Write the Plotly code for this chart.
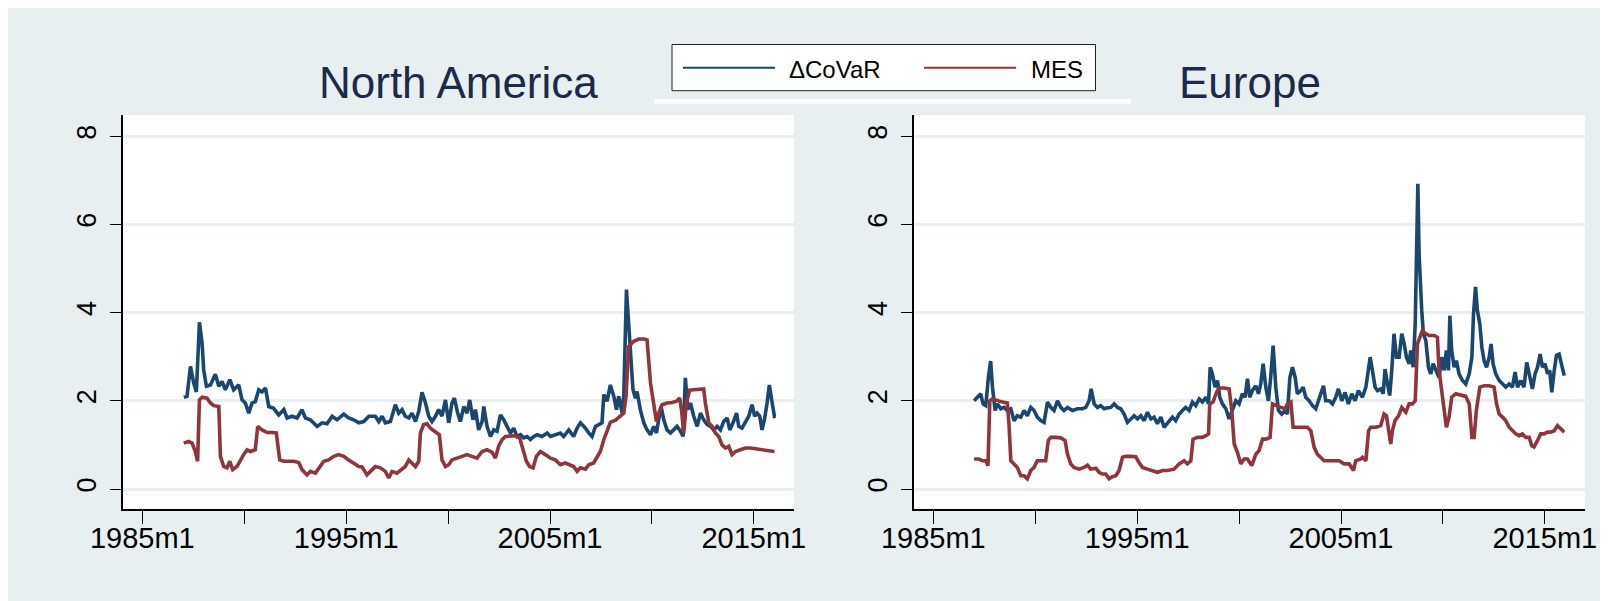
import plotly.graph_objects as go

# ---------------- data (decimal years, values) ----------------
na_covar_t = [1987.03, 1987.19, 1987.36, 1987.52, 1987.65, 1987.80, 1987.93, 1988.01, 1988.14, 1988.34, 1988.58, 1988.75, 1988.91, 1989.07, 1989.29, 1989.48, 1989.73, 1989.89, 1990.05, 1990.22, 1990.38, 1990.54, 1990.71, 1990.87, 1991.04, 1991.20, 1991.44, 1991.69, 1991.94, 1992.10, 1992.34, 1992.59, 1992.83, 1993.00, 1993.24, 1993.57, 1993.82, 1994.06, 1994.31, 1994.55, 1994.88, 1995.12, 1995.37, 1995.62, 1995.86, 1996.11,
              1996.43, 1996.60, 1996.76, 1996.92, 1997.17, 1997.41, 1997.58, 1997.74, 1997.90, 1998.07, 1998.23, 1998.40, 1998.56, 1998.72, 1998.89, 1999.05, 1999.21, 1999.38, 1999.54, 1999.70, 1999.87, 2000.03, 2000.19, 2000.31, 2000.47, 2000.60, 2000.77, 2000.93, 2001.06, 2001.22, 2001.34, 2001.50, 2001.67, 2001.75, 2001.91, 2002.08, 2002.24, 2002.40, 2002.57, 2002.73, 2002.89, 2003.06, 2003.22, 2003.38, 2003.55, 2003.71, 2003.87, 2004.04, 2004.20, 2004.37, 2004.61, 2004.86, 2005.02, 2005.26, 2005.51, 2005.67, 2005.92,
              2006.16, 2006.33, 2006.49, 2006.74, 2006.90, 2007.06, 2007.23, 2007.39, 2007.55, 2007.64, 2007.80, 2007.96, 2008.13, 2008.26, 2008.37, 2008.54, 2008.62, 2008.75, 2008.86, 2008.94, 2009.07, 2009.19, 2009.27, 2009.43, 2009.60, 2009.76, 2009.93, 2010.09, 2010.22, 2010.33, 2010.45, 2010.58, 2010.74, 2010.91, 2011.07, 2011.23, 2011.40, 2011.53, 2011.64, 2011.76, 2011.89, 2012.05, 2012.22, 2012.38, 2012.54, 2012.71, 2012.87, 2013.03, 2013.20, 2013.36, 2013.52, 2013.69, 2013.82, 2013.98, 2014.15, 2014.26, 2014.42, 2014.59, 2014.75, 2014.91, 2015.04, 2015.16, 2015.29, 2015.40, 2015.52, 2015.65, 2015.76, 2015.90, 2016.01, 2016.07]
na_covar_v = [2.08, 2.10, 2.78, 2.40, 2.20, 3.78, 3.30, 2.70, 2.33, 2.36, 2.60, 2.33, 2.44, 2.25, 2.48, 2.25, 2.36, 2.02, 1.95, 1.72, 1.95, 1.98, 2.25, 2.20, 2.29, 1.87, 1.83, 1.68, 1.80, 1.61, 1.65, 1.61, 1.80, 1.61, 1.57, 1.42, 1.50, 1.48, 1.65, 1.57, 1.70, 1.61, 1.57, 1.50, 1.53, 1.65,
              1.65, 1.53, 1.65, 1.50, 1.53, 1.91, 1.72, 1.80, 1.65, 1.61, 1.72, 1.53, 1.76, 2.19, 1.95, 1.65, 1.53, 1.65, 1.80, 1.65, 2.02, 1.50, 1.95, 2.06, 1.72, 1.53, 1.87, 1.72, 2.02, 1.57, 1.80, 1.34, 1.53, 1.87, 1.42, 1.19, 1.34, 1.31, 1.68, 1.57, 1.42, 1.27, 1.38, 1.19, 1.23, 1.16, 1.19, 1.12, 1.19, 1.23, 1.19, 1.27, 1.19, 1.23, 1.27, 1.19, 1.34,
              1.19, 1.38, 1.50, 1.38, 1.27, 1.19, 1.42, 1.46, 1.50, 2.14, 1.99, 2.36, 2.10, 1.80, 2.10, 1.72, 2.14, 4.52, 3.76, 3.08, 2.25, 2.06, 2.21, 1.80, 1.50, 1.34, 1.23, 1.42, 1.27, 1.57, 1.87, 1.57, 1.34, 1.27, 1.34, 1.42, 1.31, 1.19, 2.52, 1.80, 1.95, 1.65, 1.42, 1.72, 1.57, 1.46, 1.42, 1.34, 1.42, 1.34, 1.53, 1.61, 1.34, 1.50, 1.72, 1.42, 1.38, 1.53, 1.65, 1.91, 1.65, 1.72, 1.65, 1.34, 1.57, 1.95, 2.36, 1.95, 1.65, 1.66]

na_mes_t = [1987.03, 1987.27, 1987.44, 1987.60, 1987.71, 1987.80, 1987.93, 1988.17, 1988.34, 1988.50, 1988.75, 1988.83, 1988.99, 1989.15, 1989.29, 1989.43, 1989.64, 1989.81, 1989.97, 1990.14, 1990.30, 1990.54, 1990.66, 1990.87, 1991.12, 1991.36, 1991.57, 1991.74, 1991.94, 1992.18, 1992.43, 1992.67, 1992.83, 1993.08, 1993.24, 1993.49, 1993.73, 1993.90, 1994.14, 1994.39, 1994.63, 1994.88, 1995.12, 1995.37, 1995.62, 1995.78, 1996.02, 1996.19, 1996.43,
            1996.68, 1996.92, 1997.09, 1997.25, 1997.49, 1997.74, 1997.90, 1998.07, 1998.23, 1998.40, 1998.56, 1998.64, 1998.80, 1998.97, 1999.13, 1999.38, 1999.57, 1999.70, 1999.87, 2000.03, 2000.19, 2000.44, 2000.68, 2000.93, 2001.17, 2001.42, 2001.67, 2001.91, 2002.16, 2002.32, 2002.48, 2002.65, 2002.81, 2003.06, 2003.30, 2003.51, 2003.68, 2003.84, 2004.00, 2004.17, 2004.33, 2004.53, 2004.77, 2005.02, 2005.26, 2005.51, 2005.75, 2006.00,
            2006.16, 2006.33, 2006.49, 2006.74, 2006.90, 2007.14, 2007.31, 2007.47, 2007.64, 2007.80, 2007.96, 2008.21, 2008.45, 2008.62, 2008.73, 2008.86, 2009.11, 2009.35, 2009.60, 2009.76, 2009.93, 2010.09, 2010.22, 2010.33, 2010.50, 2010.74, 2010.99, 2011.20, 2011.36, 2011.45, 2011.56, 2011.69, 2011.85, 2012.05, 2012.30, 2012.54, 2012.62, 2012.79, 2012.95, 2013.11, 2013.28, 2013.44, 2013.61, 2013.77, 2013.93, 2014.10, 2014.34, 2014.59, 2014.83, 2015.08, 2015.32, 2015.57, 2015.81, 2016.01]
na_mes_v = [1.04, 1.08, 1.04, 0.85, 0.63, 2.02, 2.08, 2.06, 1.95, 1.89, 1.87, 0.74, 0.51, 0.48, 0.63, 0.44, 0.51, 0.66, 0.78, 0.89, 0.85, 0.89, 1.42, 1.34, 1.28, 1.28, 1.27, 0.66, 0.63, 0.63, 0.63, 0.60, 0.44, 0.32, 0.40, 0.36, 0.51, 0.63, 0.66, 0.74, 0.78, 0.74, 0.66, 0.59, 0.51, 0.50, 0.32, 0.40, 0.51,
            0.48, 0.40, 0.25, 0.40, 0.36, 0.44, 0.51, 0.66, 0.59, 0.51, 0.63, 1.27, 1.46, 1.48, 1.38, 1.28, 1.23, 0.66, 0.51, 0.55, 0.66, 0.70, 0.74, 0.78, 0.74, 0.70, 0.85, 0.89, 0.83, 0.70, 0.97, 1.12, 1.19, 1.21, 1.21, 1.16, 0.89, 0.63, 0.51, 0.48, 0.74, 0.85, 0.78, 0.70, 0.66, 0.55, 0.59, 0.53,
            0.51, 0.40, 0.48, 0.45, 0.55, 0.59, 0.74, 0.85, 1.12, 1.34, 1.51, 1.56, 1.65, 1.72, 2.10, 3.23, 3.35, 3.40, 3.40, 3.38, 2.40, 1.95, 1.53, 1.72, 1.91, 1.95, 1.96, 1.99, 2.06, 1.80, 1.27, 1.95, 2.24, 2.25, 2.27, 2.27, 1.95, 1.50, 1.42, 1.27, 1.19, 1.00, 0.93, 0.97, 0.78, 0.85, 0.89, 0.93, 0.93, 0.91, 0.89, 0.88, 0.85, 0.85]

eu_covar_t = [1987.00, 1987.16, 1987.32, 1987.44, 1987.57, 1987.70, 1987.81, 1987.90, 1988.03, 1988.14, 1988.31, 1988.47, 1988.63, 1988.80, 1988.96, 1989.12, 1989.29, 1989.45, 1989.61, 1989.78, 1989.94, 1990.10, 1990.27, 1990.43, 1990.60, 1990.76, 1990.92, 1991.09, 1991.25, 1991.41, 1991.58, 1991.82, 1992.07, 1992.31, 1992.48, 1992.64, 1992.74, 1992.89, 1993.05, 1993.21, 1993.38, 1993.54, 1993.70, 1993.87, 1994.03, 1994.19, 1994.36, 1994.52, 1994.68, 1994.85, 1995.01, 1995.18, 1995.34, 1995.50, 1995.67, 1995.83, 1995.99, 1996.16, 1996.32,
              1996.57, 1996.73, 1996.89, 1997.06, 1997.22, 1997.38, 1997.55, 1997.71, 1997.87, 1998.04, 1998.20, 1998.37, 1998.50, 1998.58, 1998.69, 1998.82, 1998.94, 1999.05, 1999.18, 1999.35, 1999.51, 1999.67, 1999.84, 2000.00, 2000.16, 2000.29, 2000.41, 2000.52, 2000.65, 2000.82, 2000.95, 2001.06, 2001.18, 2001.31, 2001.44, 2001.55, 2001.67, 2001.80, 2001.93, 2002.09, 2002.26, 2002.37, 2002.49, 2002.62, 2002.75, 2002.86, 2003.03, 2003.14, 2003.27, 2003.44, 2003.60, 2003.76, 2003.89, 2004.01, 2004.14, 2004.25, 2004.42, 2004.58, 2004.74, 2004.87, 2005.04, 2005.20, 2005.36, 2005.53, 2005.69, 2005.85,
              2006.05, 2006.22, 2006.35, 2006.43, 2006.54, 2006.67, 2006.79, 2006.95, 2007.07, 2007.16, 2007.28, 2007.39, 2007.49, 2007.60, 2007.72, 2007.85, 2007.98, 2008.10, 2008.21, 2008.34, 2008.42, 2008.54, 2008.64, 2008.70, 2008.77, 2008.83, 2008.90, 2008.96, 2009.04, 2009.16, 2009.29, 2009.40, 2009.52, 2009.65, 2009.81, 2009.94, 2010.06, 2010.17, 2010.27, 2010.34, 2010.43, 2010.55, 2010.66, 2010.79, 2010.96, 2011.12, 2011.29, 2011.42, 2011.50, 2011.60, 2011.69, 2011.81, 2011.91, 2012.02, 2012.14, 2012.27, 2012.36, 2012.46, 2012.59, 2012.76, 2012.92, 2013.08, 2013.25, 2013.41, 2013.54, 2013.66, 2013.82, 2013.98, 2014.11, 2014.26, 2014.39, 2014.52, 2014.64, 2014.77, 2014.88, 2015.01, 2015.13, 2015.24, 2015.34, 2015.46, 2015.57, 2015.70, 2015.83, 2015.95]
eu_covar_v = [2.00, 2.08, 2.16, 1.93, 1.89, 2.53, 2.90, 2.31, 1.78, 1.93, 1.82, 1.85, 1.78, 1.82, 1.55, 1.66, 1.63, 1.78, 1.66, 1.85, 1.78, 1.63, 1.55, 1.51, 1.97, 1.85, 1.78, 2.00, 1.85, 1.78, 1.85, 1.78, 1.82, 1.82, 1.85, 2.00, 2.27, 1.93, 1.85, 1.89, 1.82, 1.84, 1.85, 1.93, 1.85, 1.82, 1.70, 1.51, 1.59, 1.66, 1.59, 1.66, 1.55, 1.74, 1.59, 1.63, 1.48, 1.63, 1.40,
              1.55, 1.63, 1.55, 1.70, 1.78, 1.85, 1.78, 1.97, 1.89, 2.04, 1.97, 2.08, 1.93, 2.76, 2.61, 2.31, 2.46, 2.08, 1.93, 1.82, 1.59, 1.78, 2.00, 1.93, 2.16, 2.08, 2.50, 2.08, 2.23, 2.34, 2.16, 2.38, 2.84, 2.31, 2.00, 2.53, 3.25, 2.31, 1.78, 1.70, 1.78, 1.70, 2.53, 2.76, 2.53, 2.16, 2.23, 2.31, 2.08, 2.00, 1.89, 1.82, 2.00, 2.12, 2.34, 2.00, 2.00, 1.93, 2.08, 2.27, 2.00, 2.19, 1.93, 2.16, 2.00, 2.23,
              2.08, 2.31, 2.69, 2.99, 2.69, 2.31, 2.23, 2.27, 2.16, 2.72, 2.38, 2.12, 2.69, 3.52, 2.99, 2.99, 3.52, 3.29, 2.99, 2.84, 3.14, 2.76, 3.74, 4.95, 6.92, 5.33, 4.50, 4.05, 3.52, 3.37, 2.76, 2.61, 2.84, 2.69, 2.53, 2.99, 2.69, 3.14, 2.69, 3.93, 3.14, 2.76, 2.91, 2.61, 2.46, 2.38, 2.61, 2.99, 3.97, 4.58, 4.05, 3.74, 3.21, 2.91, 2.76, 2.99, 3.29, 2.84, 2.61, 2.46, 2.38, 2.31, 2.38, 2.31, 2.65, 2.31, 2.46, 2.31, 2.87, 2.53, 2.27, 2.61, 2.76, 3.06, 2.76, 2.84, 2.61, 2.69, 2.19, 2.69, 3.03, 3.06, 2.76, 2.57]

eu_mes_t = [1987.00, 1987.24, 1987.41, 1987.57, 1987.68, 1987.77, 1987.90, 1988.14, 1988.39, 1988.63, 1988.71, 1988.80, 1988.96, 1989.12, 1989.29, 1989.45, 1989.61, 1989.78, 1989.94, 1990.10, 1990.27, 1990.51, 1990.64, 1990.76, 1991.00, 1991.25, 1991.46, 1991.58, 1991.74, 1991.90, 1992.15, 1992.39, 1992.56, 1992.72, 1992.97, 1993.13, 1993.29, 1993.46, 1993.62, 1993.78, 1993.95, 1994.11, 1994.28, 1994.44, 1994.68, 1994.93, 1995.09, 1995.26, 1995.50, 1995.75, 1995.99, 1996.24, 1996.48,
            1996.81, 1997.06, 1997.30, 1997.46, 1997.63, 1997.74, 1997.96, 1998.20, 1998.37, 1998.50, 1998.56, 1998.72, 1998.89, 1999.02, 1999.26, 1999.51, 1999.64, 1999.76, 1999.92, 2000.08, 2000.25, 2000.41, 2000.62, 2000.82, 2000.98, 2001.15, 2001.31, 2001.52, 2001.64, 2001.80, 2002.04, 2002.26, 2002.37, 2002.54, 2002.65, 2002.86, 2003.11, 2003.35, 2003.52, 2003.68, 2003.84, 2004.01, 2004.17, 2004.42, 2004.66, 2004.91, 2005.15, 2005.40, 2005.61, 2005.72, 2005.97,
            2006.05, 2006.22, 2006.35, 2006.46, 2006.71, 2006.95, 2007.11, 2007.23, 2007.36, 2007.44, 2007.52, 2007.65, 2007.82, 2007.98, 2008.18, 2008.34, 2008.50, 2008.64, 2008.75, 2008.86, 2008.99, 2009.13, 2009.32, 2009.57, 2009.73, 2009.81, 2009.94, 2010.06, 2010.17, 2010.30, 2010.43, 2010.63, 2010.88, 2011.12, 2011.29, 2011.42, 2011.53, 2011.64, 2011.81, 2012.02, 2012.27, 2012.51, 2012.63, 2012.76, 2012.92, 2013.08, 2013.25, 2013.41, 2013.57, 2013.74, 2013.90, 2014.07, 2014.23, 2014.36, 2014.47, 2014.64, 2014.80, 2014.96, 2015.13, 2015.29, 2015.46, 2015.62, 2015.78, 2015.95]
eu_mes_v = [0.68, 0.68, 0.64, 0.64, 0.53, 2.00, 2.04, 2.00, 1.97, 1.95, 1.47, 0.64, 0.57, 0.49, 0.30, 0.30, 0.23, 0.42, 0.49, 0.64, 0.64, 0.64, 1.10, 1.17, 1.17, 1.16, 1.10, 0.79, 0.57, 0.49, 0.45, 0.49, 0.54, 0.45, 0.47, 0.38, 0.34, 0.34, 0.23, 0.28, 0.30, 0.42, 0.72, 0.74, 0.74, 0.73, 0.60, 0.49, 0.45, 0.42, 0.38, 0.42, 0.42,
            0.45, 0.57, 0.64, 0.57, 0.64, 1.13, 1.17, 1.17, 1.21, 1.25, 1.93, 1.97, 2.19, 2.29, 2.29, 2.27, 1.78, 1.02, 0.83, 0.57, 0.68, 0.68, 0.53, 0.79, 0.87, 1.13, 1.13, 1.17, 1.93, 1.89, 1.85, 1.82, 1.93, 1.97, 1.40, 1.40, 1.40, 1.40, 1.32, 0.95, 0.79, 0.72, 0.64, 0.64, 0.64, 0.64, 0.57, 0.57, 0.42, 0.64, 0.68,
            0.72, 0.64, 1.32, 1.40, 1.40, 1.44, 1.70, 1.66, 1.32, 1.02, 1.32, 1.55, 1.66, 1.85, 1.74, 1.93, 1.93, 2.00, 3.29, 3.44, 3.59, 3.53, 3.48, 3.48, 3.44, 2.69, 2.23, 1.93, 1.40, 1.63, 2.08, 2.16, 2.12, 2.10, 1.93, 1.17, 1.17, 1.78, 2.31, 2.34, 2.34, 2.31, 1.93, 1.70, 1.63, 1.55, 1.40, 1.32, 1.25, 1.21, 1.25, 1.17, 1.17, 0.98, 0.95, 1.10, 1.25, 1.25, 1.29, 1.29, 1.32, 1.44, 1.36, 1.29]

panel_titles = ["North America", "Europe"]
series_names = ["\u0394CoVaR", "MES"]
x_tick_vals = [1985, 1990, 1995, 2000, 2005, 2010, 2015]
x_tick_text = ["1985m1", "", "1995m1", "", "2005m1", "", "2015m1"]
y_tick_vals = [0, 2, 4, 6, 8]

# ---------------- styling ----------------
# The page body adds an 8 px offset; positions below are measured on the final picture.
OFF = 8
W, H = 1592, 593
BG = "#e8eff1"
NAVY = "#1a476f"
MAROON = "#90353b"
FONT = "Liberation Sans, Arial, sans-serif"

def px_x(p):
    return (p - OFF) / W

def px_y(p):
    return 1 - (p - OFF) / H

fig = go.Figure()
fig.add_trace(go.Scatter(x=na_covar_t, y=na_covar_v, mode="lines", name=series_names[0],
                         line=dict(color=NAVY, width=3.6), xaxis="x", yaxis="y"))
fig.add_trace(go.Scatter(x=na_mes_t, y=na_mes_v, mode="lines", name=series_names[1],
                         line=dict(color=MAROON, width=3.6), xaxis="x", yaxis="y"))
fig.add_trace(go.Scatter(x=eu_covar_t, y=eu_covar_v, mode="lines", name=series_names[0],
                         line=dict(color=NAVY, width=3.6), xaxis="x2", yaxis="y2"))
fig.add_trace(go.Scatter(x=eu_mes_t, y=eu_mes_v, mode="lines", name=series_names[1],
                         line=dict(color=MAROON, width=3.6), xaxis="x2", yaxis="y2"))

ydom = [px_y(509.3), px_y(115)]
xdom1 = [px_x(123), px_x(794)]
xdom2 = [px_x(914), px_x(1585)]

xax = dict(range=[1984.05, 2016.97], tickmode="array", tickvals=x_tick_vals, ticktext=x_tick_text,
           ticks="outside", ticklen=13, tickwidth=1, tickcolor="black", automargin=False,
           ticklabelstandoff=-11, ticklabeloverflow="allow",
           showline=True, linecolor="black", linewidth=1.5, showgrid=False, zeroline=False,
           tickfont=dict(size=29, color="black", family=FONT), fixedrange=True)
yax = dict(range=[-0.46, 8.48], tickmode="array", tickvals=y_tick_vals, tickangle=-90,
           ticks="outside", ticklen=11, tickwidth=1, tickcolor="black", automargin=False,
           ticklabelstandoff=3, ticklabeloverflow="allow",
           showline=True, linecolor="black", linewidth=1.5,
           showgrid=True, gridcolor=BG, gridwidth=3, zeroline=False,
           tickfont=dict(size=27, color="black", family=FONT), fixedrange=True)

fig.update_layout(
    template="none",
    width=W, height=H, margin=dict(l=0, r=0, t=0, b=0, pad=0, autoexpand=False),
    paper_bgcolor=BG, plot_bgcolor="white", showlegend=False,
    font=dict(family=FONT),
    xaxis=dict(domain=xdom1, anchor="y", **xax),
    yaxis=dict(domain=ydom, anchor="x", **yax),
    xaxis2=dict(domain=xdom2, anchor="y2", **xax),
    yaxis2=dict(domain=ydom, anchor="x2", **yax),
)

shapes = [
    # white strip below legend
    dict(type="rect", xref="paper", yref="paper", x0=px_x(654), x1=px_x(1131), y0=px_y(103.7), y1=px_y(99),
         fillcolor="white", line=dict(width=0)),
    # legend box
    dict(type="rect", xref="paper", yref="paper", x0=px_x(672), x1=px_x(1095.5), y0=px_y(90.7), y1=px_y(44.5),
         fillcolor="white", line=dict(color="#222222", width=1)),
    dict(type="line", xref="paper", yref="paper", x0=px_x(683), x1=px_x(775), y0=px_y(67.7), y1=px_y(67.7),
         line=dict(color=NAVY, width=2)),
    dict(type="line", xref="paper", yref="paper", x0=px_x(924), x1=px_x(1016), y0=px_y(67.7), y1=px_y(67.7),
         line=dict(color=MAROON, width=2)),
]

annotations = [
    dict(text=panel_titles[0], xref="paper", yref="paper", x=px_x(458.5), y=px_y(82), xanchor="center",
         yanchor="middle", showarrow=False, font=dict(size=44, color="#1b2a4a", family=FONT)),
    dict(text=panel_titles[1], xref="paper", yref="paper", x=px_x(1249.5), y=px_y(82), xanchor="center",
         yanchor="middle", showarrow=False, font=dict(size=44, color="#1b2a4a", family=FONT)),
    dict(text=series_names[0], xref="paper", yref="paper", x=px_x(787), y=px_y(69.5), xanchor="left",
         yanchor="middle", showarrow=False, font=dict(size=24, color="black", family=FONT)),
    dict(text=series_names[1], xref="paper", yref="paper", x=px_x(1029), y=px_y(69.5), xanchor="left",
         yanchor="middle", showarrow=False, font=dict(size=24, color="black", family=FONT)),
]

fig.update_layout(shapes=shapes, annotations=annotations)
fig.write_html("out.html")
